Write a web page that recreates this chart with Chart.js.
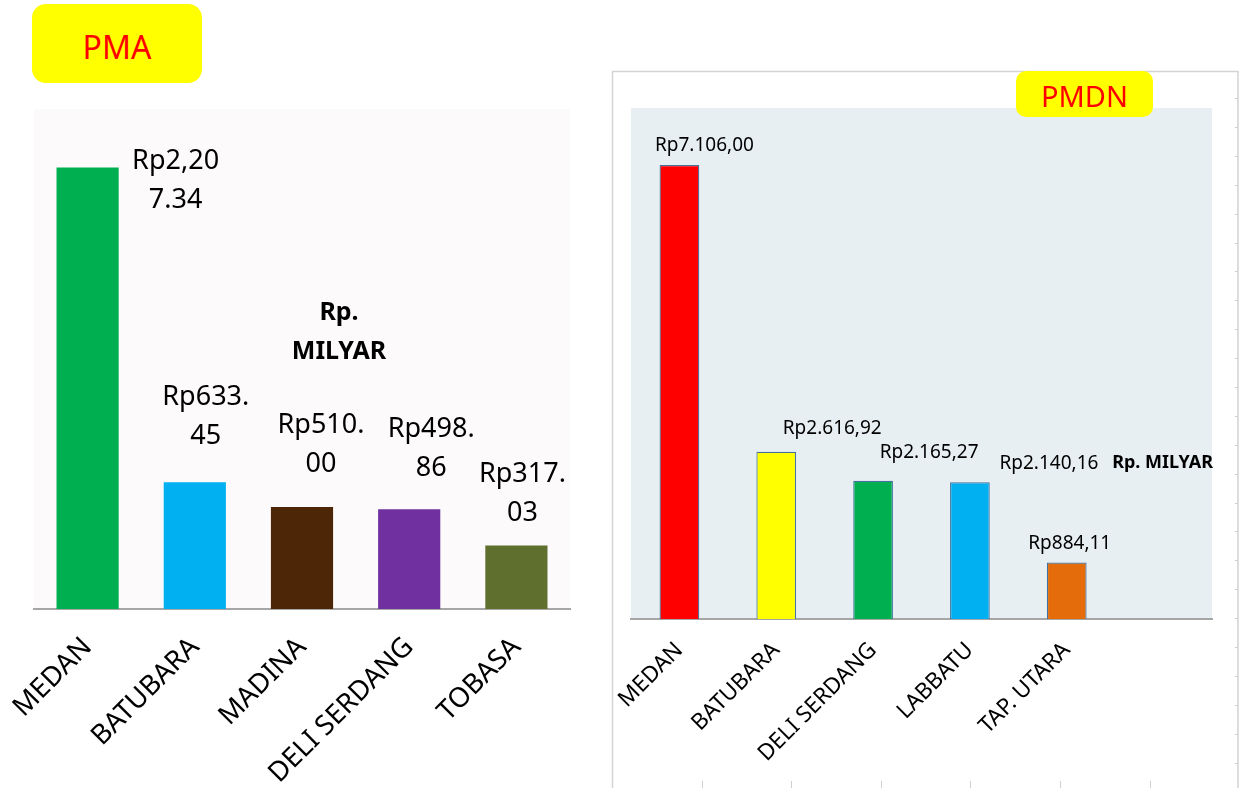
<!DOCTYPE html>
<html>
<head>
<meta charset="utf-8">
<script src="https://cdn.jsdelivr.net/npm/chart.js@4.4.1/dist/chart.umd.min.js"></script>
<style>
  html, body { margin: 0; padding: 0; background: #ffffff; width: 1241px; height: 788px; overflow: hidden; font-family: "Noto Sans", sans-serif; }
  .badge { position: absolute; background: #ffff00; color: #ff0000; display: flex; align-items: center; justify-content: center; z-index: 2; box-sizing: border-box; }
  #pmaBadge { left: 32px; top: 4px; width: 170px; height: 79px; border-radius: 14px; font-size: 32px; padding-top: 5px; }
  #pmdnBadge { left: 1016px; top: 71px; width: 137px; height: 46px; border-radius: 10px; font-size: 29px; padding-top: 2px; }
  #pma { position: absolute; left: 0; top: 0; }
  #pmdn { position: absolute; left: 600px; top: 60px; }
</style>
</head>
<body>
<div class="badge" id="pmaBadge">PMA</div>
<div class="badge" id="pmdnBadge">PMDN</div>
<canvas id="pma" width="600" height="788"></canvas>
<canvas id="pmdn" width="641" height="728"></canvas>
<script>
// PMA (foreign investment) by region, in billions of rupiah
const pmaRegions = ['MEDAN', 'BATUBARA', 'MADINA', 'DELI SERDANG', 'TOBASA'];
const pmaValues = [2207.34, 633.45, 510.00, 498.86, 317.03];
const pmaColors = ['#00b050', '#00b0f0', '#4d2607', '#7030a0', '#5e6f2e'];
const pmaAxisMax = 2500;

// PMDN (domestic investment) by region, in billions of rupiah
const pmdnRegions = ['MEDAN', 'BATUBARA', 'DELI SERDANG', 'LABBATU', 'TAP. UTARA', ''];
const pmdnValues = [7106.00, 2616.92, 2165.27, 2140.16, 884.11, null];
const pmdnColors = ['#ff0000', '#ffff00', '#00b050', '#00b0f0', '#e46c0a', '#ffffff'];
const pmdnAxisMax = 8000;

const unitText = 'Rp. MILYAR';

// label placement relative to each bar's top centre: [dx, dy]
const pmaLabelOffsets = [[88, 11], [11, -67], [19, -64], [22, -62], [6, -54]];
const pmdnLabelOffsets = [[25, -21], [56, -25], [56, -29], [79, -20], [3, -20]];

function rupiah(v, groupSep, decSep) {
  const parts = v.toFixed(2).split('.');
  return 'Rp' + parts[0].replace(/\B(?=(\d{3})+(?!\d))/g, groupSep) + decSep + parts[1];
}
function chunk(text, n) {
  const out = [];
  for (let i = 0; i < text.length; i += n) out.push(text.slice(i, i + n));
  return out;
}

const pmaLabelLines = pmaValues.map(v => chunk(rupiah(v, ',', '.'), 6));
const pmdnLabelLines = pmdnValues.map(v => v == null ? null : [rupiah(v, '.', ',')]);

const FONT = '"Noto Sans", sans-serif';

// fills the plot area behind the bars
const plotBg = {
  id: 'plotBg',
  beforeDraw(chart, args, opts) {
    const { ctx, chartArea: a } = chart;
    ctx.save();
    ctx.fillStyle = opts.color;
    ctx.fillRect(a.left, a.top, a.right - a.left, a.bottom - a.top);
    ctx.restore();
  }
};

// value labels next to the bars plus the unit note
const valueLabels = {
  id: 'valueLabels',
  afterDatasetsDraw(chart, args, o) {
    const ctx = chart.ctx;
    const meta = chart.getDatasetMeta(0);
    ctx.save();
    ctx.fillStyle = '#000000';
    ctx.textAlign = 'center';
    ctx.textBaseline = 'alphabetic';
    ctx.font = o.size + 'px ' + FONT;
    meta.data.forEach((bar, i) => {
      const lines = o.lines[i];
      if (!lines) return;
      const off = o.offsets[i];
      const cx = bar.x + off[0];
      const cy = bar.y + off[1];
      lines.forEach((t, k) => {
        const ly = cy + (k - (lines.length - 1) / 2) * o.gap;
        ctx.fillText(t, cx, ly + o.size * 0.357);
      });
    });
    const u = o.unit;
    ctx.font = 'bold ' + u.size + 'px ' + FONT;
    ctx.textAlign = u.align;
    u.lines.forEach((t, k) => {
      const ly = u.y + (k - (u.lines.length - 1) / 2) * u.gap;
      ctx.fillText(t, u.x, ly + u.size * 0.357);
    });
    ctx.restore();
  }
};

// sheet frame and cell-border stubs around the PMDN chart
const sheetFrame = {
  id: 'sheetFrame',
  beforeDraw(chart) {
    const ctx = chart.ctx;
    const W = chart.width, H = chart.height;
    ctx.save();
    ctx.strokeStyle = '#d4d4d4';
    ctx.lineWidth = 1.5;
    ctx.beginPath();
    ctx.moveTo(12.5, H); ctx.lineTo(12.5, 11.5); ctx.lineTo(638, 11.5); ctx.lineTo(638, H);
    ctx.stroke();
    ctx.strokeStyle = '#cfcfcf';
    ctx.lineWidth = 1;
    ctx.beginPath();
    for (let y = 38; y < H; y += 28.9) { ctx.moveTo(635, Math.round(y) + 0.5); ctx.lineTo(638, Math.round(y) + 0.5); }
    [102, 191, 281, 370, 460, 550].forEach(x => { ctx.moveTo(x + 0.5, H - 7); ctx.lineTo(x + 0.5, H); });
    ctx.stroke();
    ctx.restore();
  }
};

function xScale(size, pad, height) {
  return {
    grid: { display: false },
    border: { display: true, color: '#a6a6a6', width: 2 },
    ticks: { color: '#000000', font: { family: FONT, size: size }, minRotation: 45, maxRotation: 45, padding: pad, autoSkip: false },
    afterFit(s) { s.height = height; }
  };
}

new Chart(document.getElementById('pma'), {
  type: 'bar',
  data: {
    labels: pmaRegions,
    datasets: [{ data: pmaValues, backgroundColor: pmaColors, borderWidth: 0, barPercentage: 0.58, categoryPercentage: 1 }]
  },
  options: {
    responsive: false, animation: false, events: [],
    layout: { padding: { left: 34, right: 30, top: 109, bottom: 0 } },
    plugins: {
      legend: { display: false }, tooltip: { enabled: false },
      plotBg: { color: '#fcfafb' },
      valueLabels: {
        lines: pmaLabelLines, offsets: pmaLabelOffsets, size: 27, gap: 39,
        unit: { lines: ['Rp.', 'MILYAR'], x: 339, y: 331, size: 25, gap: 39, align: 'center' }
      }
    },
    scales: {
      y: { display: false, min: 0, max: pmaAxisMax },
      x: xScale(27.5, 14, 179)
    }
  },
  plugins: [plotBg, valueLabels]
});

new Chart(document.getElementById('pmdn'), {
  type: 'bar',
  data: {
    labels: pmdnRegions,
    datasets: [{ data: pmdnValues, backgroundColor: pmdnColors, borderColor: '#41719c', borderWidth: 1.2, barPercentage: 0.41, categoryPercentage: 1 }]
  },
  options: {
    responsive: false, animation: false, events: [],
    layout: { padding: { left: 31, right: 29, top: 48, bottom: 0 } },
    plugins: {
      legend: { display: false }, tooltip: { enabled: false },
      plotBg: { color: '#e8eff3' },
      valueLabels: {
        lines: pmdnLabelLines, offsets: pmdnLabelOffsets, size: 19, gap: 24,
        unit: { lines: [unitText], x: 613, y: 402, size: 18, gap: 24, align: 'right' }
      }
    },
    scales: {
      y: { display: false, min: 0, max: pmdnAxisMax },
      x: xScale(22.5, 10, 169)
    }
  },
  plugins: [sheetFrame, plotBg, valueLabels]
});
</script>
</body>
</html>
